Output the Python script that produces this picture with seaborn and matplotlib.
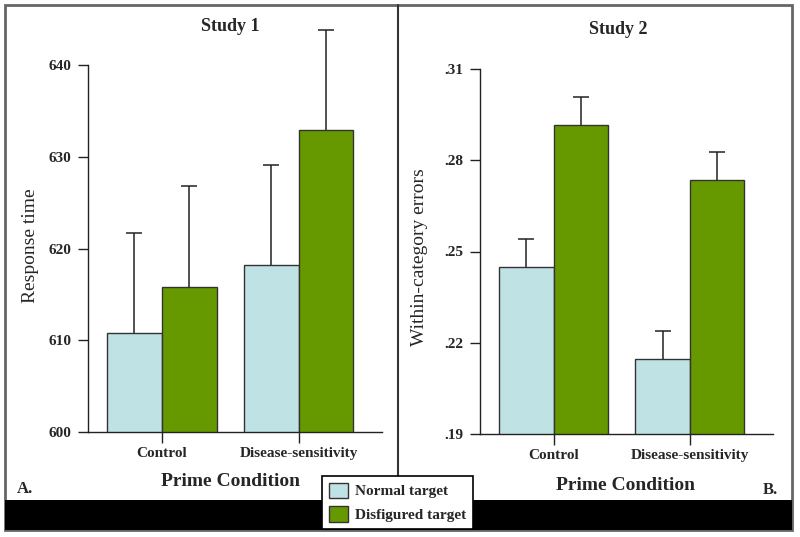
import matplotlib
matplotlib.use("Agg")
import matplotlib.pyplot as plt
import seaborn as sns
import pandas as pd
import numpy as np
from matplotlib.patches import Rectangle
from matplotlib.lines import Line2D

# ---- data ----
conditions = ["Control", "Disease-sensitivity"]
targets = ["Normal target", "Disfigured target"]

s1_normal = [610.8, 618.2]
s1_disfig = [615.8, 632.9]
s1_normal_err = [10.9, 10.9]
s1_disfig_err = [11.0, 10.9]

s2_normal = [0.2449, 0.2146]
s2_disfig = [0.2915, 0.2735]
s2_normal_err = [0.0092, 0.0092]
s2_disfig_err = [0.0092, 0.0092]

s1_ticks = [600, 610, 620, 630, 640]
s1_ticklabels = ["600", "610", "620", "630", "640"]
s2_ticks = [0.19, 0.22, 0.25, 0.28, 0.31]
s2_ticklabels = [".19", ".22", ".25", ".28", ".31"]

colors = ["#BFE2E5", "#669900"]

sns.set_theme(style="white")
plt.rcParams["font.family"] = ["Liberation Serif", "DejaVu Serif"]

W, H = 800, 537
fig = plt.figure(figsize=(W / 100, H / 100), dpi=100)
fig.patch.set_facecolor("white")


def px_rect(x0, y0, x1, y1):
    return [x0 / W, 1 - y1 / H, (x1 - x0) / W, (y1 - y0) / H]


# frame decorations
fig.add_artist(Rectangle((5 / W, 1 - 530 / H), 787 / W, 525 / H, transform=fig.transFigure,
                         facecolor="none", edgecolor="#666666", lw=2, zorder=1))
fig.add_artist(Rectangle((5 / W, 1 - 530 / H), 787 / W, 30 / H, transform=fig.transFigure,
                         facecolor="black", edgecolor="none", zorder=1))
fig.add_artist(Line2D([398 / W, 398 / W], [1 - 5 / H, 1 - 500 / H], transform=fig.transFigure,
                      color="#333333", lw=1.5, zorder=1))


def panel(rect, normal, disfig, nerr, derr, ylim, ticks, ticklabels, ylabel, title,
          title_xy, xlabel_xy, ylabel_xy):
    ax = fig.add_axes(rect)
    ax.patch.set_alpha(0)
    df = pd.DataFrame({
        "Prime Condition": conditions * 2,
        "Target": [targets[0]] * 2 + [targets[1]] * 2,
        "value": list(normal) + list(disfig),
    })
    sns.barplot(data=df, x="Prime Condition", y="value", hue="Target", hue_order=targets,
                palette=colors, errorbar=None, width=0.8, edgecolor="#333333",
                linewidth=1.0, ax=ax, saturation=1)
    for cont, errs in zip(ax.containers, [nerr, derr]):
        xs = [b.get_x() + b.get_width() / 2 for b in cont]
        ys = [b.get_height() for b in cont]
        _, caps, bars = ax.errorbar(xs, ys, yerr=[np.zeros(len(errs)), errs], fmt="none",
                                    ecolor="#222222", elinewidth=1.1, capsize=6, capthick=1.1,
                                    zorder=1)
        caps[0].set_visible(False)
        for c in caps:
            c.set_clip_on(False)
        for b in bars:
            b.set_clip_on(False)
    leg = ax.get_legend()
    if leg:
        leg.remove()
    ax.set_ylim(*ylim)
    ax.set_xlim(-0.54, 1.61)
    ax.set_yticks(ticks)
    ax.set_yticklabels(ticklabels, fontsize=11, fontweight="bold")
    ax.set_xticks([0, 1])
    ax.set_xticklabels(conditions, fontsize=11, fontweight="bold")
    for s in ["top", "right"]:
        ax.spines[s].set_visible(False)
    for s in ["left", "bottom"]:
        ax.spines[s].set_color("#222222")
        ax.spines[s].set_linewidth(1.0)
    ax.tick_params(axis="y", direction="out", length=7, width=1, color="#222222", pad=5, left=True)
    ax.tick_params(axis="x", direction="out", length=8, width=1, color="#222222", pad=3, bottom=True)
    ax.set_xlabel("Prime Condition", fontsize=14, fontweight="bold")
    ax.xaxis.set_label_coords(*xlabel_xy)
    ax.xaxis.label.set_va("center")
    ax.set_ylabel(ylabel, fontsize=14)
    ax.yaxis.set_label_coords(*ylabel_xy)
    ax.yaxis.label.set_va("center")
    ax.text(title_xy[0], title_xy[1], title, transform=ax.transAxes, ha="center", va="center",
            fontsize=13, fontweight="bold")
    return ax


ax1 = panel(px_rect(88, 65, 382, 432), s1_normal, s1_disfig, s1_normal_err, s1_disfig_err,
            (600, 640), s1_ticks, s1_ticklabels, "Response time", "Study 1",
            (0.483, 1.106), (0.483, -0.136), (-0.195, 0.507))
ax2 = panel(px_rect(480, 69, 773, 434), s2_normal, s2_disfig, s2_normal_err, s2_disfig_err,
            (0.19, 0.31), s2_ticks, s2_ticklabels, "Within-category errors", "Study 2",
            (0.471, 1.107), (0.495, -0.14), (-0.205, 0.485))

fig.text(17 / W, 1 - 489 / H, "A.", fontsize=12, fontweight="bold", va="center", ha="left")
fig.text(778 / W, 1 - 490 / H, "B.", fontsize=12, fontweight="bold", va="center", ha="right")

handles = [Rectangle((0, 0), 1, 1, facecolor=c, edgecolor="#333333", lw=1) for c in colors]
lg = fig.legend(handles, targets, loc="lower left", bbox_to_anchor=(322 / W, 1 - 529 / H),
                frameon=True, fancybox=False, framealpha=1, edgecolor="black",
                prop={"family": "Liberation Serif", "weight": "bold", "size": 11},
                handlelength=1.25, handleheight=1.2, handletextpad=0.45, borderpad=0.45,
                labelspacing=0.5, borderaxespad=0)
lg.get_frame().set_linewidth(1.2)
lg.set_zorder(10)

fig.savefig("out.png", dpi=100)
